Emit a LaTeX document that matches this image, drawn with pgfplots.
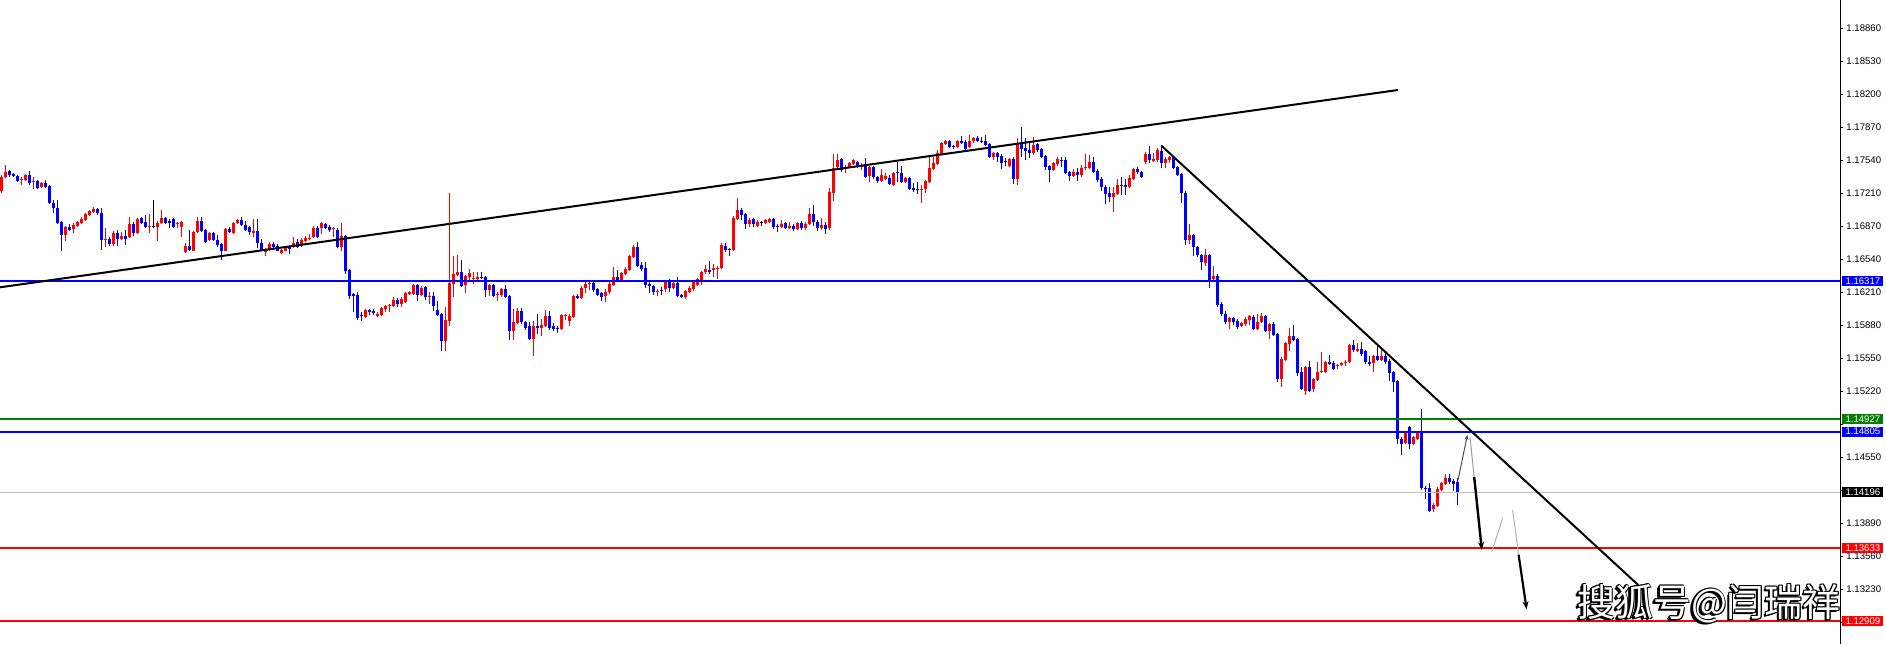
\documentclass[border=0pt]{standalone}
\usepackage{pgfplots}
\usepackage{pgfplotstable}
\pgfplotsset{compat=1.18}
\usepackage{fontspec}
\setmainfont{Liberation Sans}
\newfontfamily\cjk{Noto Sans CJK SC}
\usetikzlibrary{arrows.meta}
\definecolor{mtblue}{RGB}{0,0,255}
\definecolor{mtred}{RGB}{255,0,0}
\definecolor{mtgreen}{RGB}{0,128,0}
\definecolor{mtgray}{RGB}{192,192,192}
\pgfplotstableread{
i o h l c
0 1.1722 1.1738 1.1720 1.1736
1 1.1736 1.1748 1.1735 1.1741
2 1.1742 1.1743 1.1736 1.1738
3 1.1739 1.1740 1.1736 1.1737
4 1.1737 1.1738 1.1731 1.1732
5 1.1733 1.1736 1.1728 1.1734
6 1.1733 1.1739 1.1732 1.1738
7 1.1738 1.1742 1.1728 1.1730
8 1.1731 1.1736 1.1724 1.1732
9 1.1732 1.1733 1.1724 1.1725
10 1.1726 1.1731 1.1725 1.1730
11 1.1730 1.1733 1.1725 1.1726
12 1.1727 1.1728 1.1709 1.1710
13 1.1710 1.1713 1.1700 1.1705
14 1.1705 1.1713 1.1689 1.1690
15 1.1691 1.1692 1.1661 1.1678
16 1.1678 1.1687 1.1672 1.1686
17 1.1686 1.1689 1.1682 1.1683
18 1.1684 1.1690 1.1680 1.1688
19 1.1687 1.1692 1.1686 1.1691
20 1.1690 1.1696 1.1689 1.1694
21 1.1693 1.1700 1.1692 1.1699
22 1.1698 1.1703 1.1697 1.1702
23 1.1701 1.1706 1.1700 1.1704
24 1.1704 1.1705 1.1698 1.1700
25 1.1700 1.1705 1.1663 1.1673
26 1.1673 1.1685 1.1666 1.1674
27 1.1674 1.1676 1.1667 1.1669
28 1.1669 1.1682 1.1667 1.1680
29 1.1680 1.1683 1.1667 1.1674
30 1.1674 1.1681 1.1673 1.1677
31 1.1677 1.1683 1.1668 1.1674
32 1.1676 1.1696 1.1675 1.1689
33 1.1689 1.1691 1.1677 1.1680
34 1.1680 1.1695 1.1679 1.1694
35 1.1695 1.1696 1.1689 1.1690
36 1.1691 1.1698 1.1685 1.1686
37 1.1686 1.1699 1.1680 1.1687
38 1.1686 1.1713 1.1685 1.1686
39 1.1686 1.1692 1.1672 1.1690
40 1.1690 1.1703 1.1689 1.1695
41 1.1695 1.1696 1.1689 1.1690
42 1.1692 1.1694 1.1685 1.1690
43 1.1694 1.1695 1.1685 1.1686
44 1.1689 1.1691 1.1685 1.1690
45 1.1686 1.1692 1.1676 1.1691
46 1.1660 1.1670 1.1659 1.1667
47 1.1667 1.1683 1.1661 1.1663
48 1.1662 1.1682 1.1661 1.1681
49 1.1681 1.1696 1.1680 1.1692
50 1.1692 1.1696 1.1681 1.1682
51 1.1683 1.1684 1.1670 1.1671
52 1.1673 1.1681 1.1672 1.1680
53 1.1680 1.1681 1.1672 1.1673
54 1.1673 1.1678 1.1666 1.1668
55 1.1669 1.1670 1.1652 1.1662
56 1.1662 1.1685 1.1661 1.1684
57 1.1684 1.1686 1.1680 1.1681
58 1.1680 1.1691 1.1679 1.1690
59 1.1690 1.1694 1.1689 1.1693
60 1.1693 1.1696 1.1687 1.1688
61 1.1688 1.1692 1.1682 1.1683
62 1.1686 1.1687 1.1678 1.1681
63 1.1680 1.1694 1.1676 1.1682
64 1.1682 1.1694 1.1665 1.1670
65 1.1670 1.1674 1.1661 1.1662
66 1.1660 1.1665 1.1656 1.1662
67 1.1663 1.1671 1.1661 1.1669
68 1.1669 1.1671 1.1665 1.1666
69 1.1667 1.1669 1.1661 1.1662
70 1.1659 1.1664 1.1658 1.1663
71 1.1662 1.1666 1.1661 1.1665
72 1.1666 1.1668 1.1658 1.1664
73 1.1666 1.1676 1.1665 1.1670
74 1.1671 1.1674 1.1665 1.1666
75 1.1669 1.1675 1.1666 1.1673
76 1.1672 1.1677 1.1671 1.1675
77 1.1674 1.1679 1.1673 1.1675
78 1.1676 1.1687 1.1675 1.1685
79 1.1685 1.1687 1.1675 1.1676
80 1.1685 1.1691 1.1679 1.1690
81 1.1689 1.1690 1.1684 1.1685
82 1.1686 1.1688 1.1681 1.1683
83 1.1684 1.1686 1.1676 1.1685
84 1.1683 1.1685 1.1665 1.1666
85 1.1666 1.1690 1.1661 1.1677
86 1.1677 1.1678 1.1638 1.1641
87 1.1642 1.1643 1.1613 1.1616
88 1.1618 1.1619 1.1600 1.1616
89 1.1617 1.1620 1.1592 1.1594
90 1.1597 1.1600 1.1591 1.1596
91 1.1595 1.1603 1.1594 1.1602
92 1.1602 1.1603 1.1597 1.1600
93 1.1601 1.1603 1.1597 1.1599
94 1.1596 1.1600 1.1595 1.1598
95 1.1597 1.1605 1.1596 1.1604
96 1.1603 1.1607 1.1600 1.1606
97 1.1606 1.1608 1.1600 1.1607
98 1.1606 1.1615 1.1605 1.1612
99 1.1612 1.1614 1.1605 1.1608
100 1.1608 1.1615 1.1605 1.1613
101 1.1610 1.1620 1.1609 1.1619
102 1.1618 1.1621 1.1617 1.1620
103 1.1618 1.1628 1.1617 1.1627
104 1.1627 1.1628 1.1611 1.1617
105 1.1617 1.1626 1.1616 1.1624
106 1.1625 1.1626 1.1612 1.1615
107 1.1615 1.1620 1.1608 1.1616
108 1.1616 1.1620 1.1601 1.1606
109 1.1602 1.1611 1.1596 1.1597
110 1.1598 1.1599 1.1561 1.1571
111 1.1571 1.1605 1.1561 1.1592
112 1.1591 1.1720 1.1586 1.1629
113 1.1628 1.1656 1.1615 1.1638
114 1.1637 1.1657 1.1636 1.1640
115 1.1640 1.1652 1.1625 1.1626
116 1.1627 1.1637 1.1619 1.1636
117 1.1635 1.1643 1.1631 1.1639
118 1.1633 1.1640 1.1628 1.1634
119 1.1633 1.1640 1.1632 1.1635
120 1.1635 1.1640 1.1633 1.1634
121 1.1635 1.1636 1.1615 1.1622
122 1.1622 1.1628 1.1616 1.1627
123 1.1627 1.1628 1.1615 1.1616
124 1.1617 1.1620 1.1611 1.1618
125 1.1617 1.1624 1.1615 1.1623
126 1.1623 1.1627 1.1614 1.1615
127 1.1616 1.1617 1.1572 1.1581
128 1.1581 1.1603 1.1572 1.1590
129 1.1589 1.1604 1.1588 1.1601
130 1.1601 1.1604 1.1588 1.1590
131 1.1590 1.1591 1.1582 1.1584
132 1.1586 1.1590 1.1572 1.1573
133 1.1573 1.1591 1.1556 1.1586
134 1.1586 1.1598 1.1578 1.1584
135 1.1584 1.1593 1.1576 1.1587
136 1.1586 1.1602 1.1585 1.1596
137 1.1596 1.1601 1.1582 1.1584
138 1.1586 1.1589 1.1581 1.1583
139 1.1584 1.1586 1.1579 1.1583
140 1.1583 1.1598 1.1582 1.1597
141 1.1596 1.1598 1.1592 1.1597
142 1.1591 1.1598 1.1586 1.1596
143 1.1595 1.1617 1.1594 1.1616
144 1.1616 1.1618 1.1613 1.1614
145 1.1614 1.1626 1.1613 1.1624
146 1.1624 1.1631 1.1619 1.1628
147 1.1628 1.1631 1.1622 1.1629
148 1.1629 1.1631 1.1620 1.1622
149 1.1623 1.1624 1.1616 1.1617
150 1.1619 1.1620 1.1611 1.1615
151 1.1616 1.1623 1.1610 1.1620
152 1.1620 1.1630 1.1618 1.1628
153 1.1627 1.1645 1.1626 1.1635
154 1.1635 1.1642 1.1630 1.1632
155 1.1632 1.1640 1.1630 1.1639
156 1.1638 1.1645 1.1637 1.1643
157 1.1642 1.1657 1.1641 1.1656
158 1.1655 1.1668 1.1654 1.1666
159 1.1666 1.1671 1.1645 1.1646
160 1.1647 1.1650 1.1641 1.1643
161 1.1644 1.1650 1.1624 1.1627
162 1.1628 1.1630 1.1619 1.1626
163 1.1626 1.1627 1.1617 1.1620
164 1.1620 1.1623 1.1616 1.1621
165 1.1622 1.1625 1.1617 1.1621
166 1.1623 1.1632 1.1620 1.1631
167 1.1631 1.1633 1.1620 1.1624
168 1.1624 1.1630 1.1623 1.1629
169 1.1629 1.1635 1.1615 1.1616
170 1.1617 1.1618 1.1614 1.1615
171 1.1615 1.1622 1.1613 1.1621
172 1.1620 1.1626 1.1619 1.1624
173 1.1623 1.1631 1.1621 1.1630
174 1.1627 1.1634 1.1626 1.1633
175 1.1632 1.1641 1.1627 1.1640
176 1.1640 1.1647 1.1638 1.1643
177 1.1642 1.1651 1.1638 1.1640
178 1.1642 1.1648 1.1635 1.1644
179 1.1643 1.1646 1.1633 1.1644
180 1.1644 1.1670 1.1643 1.1668
181 1.1667 1.1670 1.1660 1.1663
182 1.1664 1.1665 1.1656 1.1663
183 1.1663 1.1697 1.1662 1.1695
184 1.1694 1.1715 1.1693 1.1703
185 1.1703 1.1705 1.1693 1.1698
186 1.1699 1.1700 1.1684 1.1689
187 1.1689 1.1695 1.1686 1.1693
188 1.1694 1.1695 1.1686 1.1689
189 1.1687 1.1693 1.1686 1.1691
190 1.1690 1.1692 1.1687 1.1690
191 1.1690 1.1694 1.1689 1.1693
192 1.1691 1.1695 1.1690 1.1694
193 1.1694 1.1695 1.1684 1.1686
194 1.1687 1.1689 1.1681 1.1686
195 1.1686 1.1693 1.1685 1.1689
196 1.1690 1.1691 1.1684 1.1685
197 1.1685 1.1691 1.1684 1.1687
198 1.1687 1.1689 1.1682 1.1684
199 1.1684 1.1691 1.1683 1.1690
200 1.1690 1.1692 1.1683 1.1685
201 1.1685 1.1691 1.1683 1.1689
202 1.1689 1.1705 1.1688 1.1699
203 1.1699 1.1708 1.1687 1.1691
204 1.1691 1.1693 1.1682 1.1685
205 1.1685 1.1695 1.1683 1.1688
206 1.1688 1.1691 1.1679 1.1684
207 1.1685 1.1725 1.1683 1.1721
208 1.1720 1.1759 1.1712 1.1745
209 1.1746 1.1759 1.1745 1.1753
210 1.1754 1.1755 1.1741 1.1743
211 1.1744 1.1748 1.1740 1.1746
212 1.1746 1.1751 1.1745 1.1750
213 1.1749 1.1754 1.1748 1.1753
214 1.1751 1.1752 1.1745 1.1747
215 1.1746 1.1750 1.1743 1.1748
216 1.1749 1.1755 1.1735 1.1736
217 1.1737 1.1747 1.1731 1.1746
218 1.1746 1.1747 1.1734 1.1736
219 1.1736 1.1737 1.1730 1.1732
220 1.1732 1.1744 1.1731 1.1738
221 1.1734 1.1740 1.1733 1.1737
222 1.1735 1.1738 1.1728 1.1729
223 1.1728 1.1741 1.1727 1.1740
224 1.1741 1.1751 1.1731 1.1740
225 1.1740 1.1747 1.1730 1.1731
226 1.1731 1.1736 1.1730 1.1735
227 1.1735 1.1736 1.1723 1.1724
228 1.1725 1.1730 1.1721 1.1723
229 1.1724 1.1731 1.1719 1.1723
230 1.1723 1.1728 1.1710 1.1724
231 1.1724 1.1733 1.1720 1.1732
232 1.1731 1.1756 1.1730 1.1745
233 1.1744 1.1756 1.1743 1.1750
234 1.1749 1.1763 1.1748 1.1760
235 1.1759 1.1771 1.1758 1.1770
236 1.1769 1.1773 1.1768 1.1772
237 1.1772 1.1773 1.1765 1.1766
238 1.1767 1.1768 1.1764 1.1766
239 1.1766 1.1773 1.1765 1.1772
240 1.1772 1.1777 1.1769 1.1770
241 1.1771 1.1773 1.1762 1.1764
242 1.1766 1.1778 1.1765 1.1772
243 1.1772 1.1776 1.1770 1.1775
244 1.1775 1.1777 1.1771 1.1772
245 1.1772 1.1776 1.1770 1.1771
246 1.1772 1.1778 1.1767 1.1768
247 1.1769 1.1770 1.1755 1.1756
248 1.1756 1.1761 1.1753 1.1760
249 1.1760 1.1761 1.1751 1.1756
250 1.1757 1.1759 1.1744 1.1750
251 1.1752 1.1755 1.1747 1.1751
252 1.1747 1.1755 1.1746 1.1754
253 1.1754 1.1756 1.1729 1.1734
254 1.1734 1.1775 1.1728 1.1770
255 1.1770 1.1786 1.1756 1.1764
256 1.1765 1.1775 1.1753 1.1762
257 1.1763 1.1770 1.1755 1.1760
258 1.1760 1.1776 1.1758 1.1768
259 1.1769 1.1770 1.1761 1.1763
260 1.1764 1.1765 1.1755 1.1756
261 1.1757 1.1758 1.1743 1.1746
262 1.1747 1.1748 1.1731 1.1743
263 1.1743 1.1751 1.1742 1.1750
264 1.1749 1.1756 1.1747 1.1754
265 1.1753 1.1756 1.1746 1.1752
266 1.1753 1.1756 1.1739 1.1740
267 1.1741 1.1742 1.1732 1.1737
268 1.1737 1.1744 1.1736 1.1741
269 1.1741 1.1745 1.1732 1.1738
270 1.1738 1.1748 1.1736 1.1745
271 1.1745 1.1759 1.1743 1.1746
272 1.1745 1.1758 1.1744 1.1751
273 1.1751 1.1756 1.1740 1.1741
274 1.1742 1.1744 1.1731 1.1733
275 1.1734 1.1736 1.1722 1.1726
276 1.1726 1.1728 1.1709 1.1719
277 1.1720 1.1726 1.1711 1.1716
278 1.1716 1.1726 1.1701 1.1720
279 1.1719 1.1734 1.1718 1.1728
280 1.1728 1.1736 1.1718 1.1727
281 1.1728 1.1734 1.1718 1.1726
282 1.1726 1.1738 1.1725 1.1735
283 1.1734 1.1745 1.1733 1.1744
284 1.1744 1.1746 1.1739 1.1741
285 1.1741 1.1742 1.1735 1.1736
286 1.1751 1.1761 1.1749 1.1759
287 1.1759 1.1767 1.1750 1.1753
288 1.1752 1.1760 1.1751 1.1754
289 1.1753 1.1765 1.1751 1.1763
290 1.1762 1.1768 1.1745 1.1750
291 1.1750 1.1756 1.1745 1.1754
292 1.1753 1.1757 1.1750 1.1756
293 1.1756 1.1757 1.1744 1.1745
294 1.1746 1.1747 1.1737 1.1738
295 1.1739 1.1740 1.1710 1.1720
296 1.1720 1.1722 1.1668 1.1673
297 1.1673 1.1689 1.1669 1.1678
298 1.1678 1.1679 1.1656 1.1666
299 1.1666 1.1667 1.1655 1.1657
300 1.1657 1.1658 1.1642 1.1650
301 1.1649 1.1664 1.1646 1.1657
302 1.1657 1.1658 1.1624 1.1631
303 1.1633 1.1646 1.1630 1.1636
304 1.1636 1.1638 1.1605 1.1607
305 1.1608 1.1610 1.1596 1.1598
306 1.1598 1.1601 1.1588 1.1590
307 1.1590 1.1595 1.1583 1.1594
308 1.1594 1.1595 1.1587 1.1590
309 1.1591 1.1593 1.1583 1.1585
310 1.1586 1.1590 1.1585 1.1589
311 1.1588 1.1595 1.1586 1.1593
312 1.1592 1.1597 1.1587 1.1596
313 1.1595 1.1597 1.1582 1.1583
314 1.1583 1.1598 1.1582 1.1590
315 1.1590 1.1599 1.1589 1.1596
316 1.1596 1.1597 1.1580 1.1581
317 1.1581 1.1589 1.1573 1.1588
318 1.1588 1.1590 1.1576 1.1577
319 1.1578 1.1579 1.1530 1.1533
320 1.1533 1.1555 1.1525 1.1553
321 1.1552 1.1570 1.1551 1.1569
322 1.1568 1.1584 1.1561 1.1576
323 1.1576 1.1587 1.1571 1.1572
324 1.1573 1.1574 1.1536 1.1539
325 1.1540 1.1545 1.1522 1.1523
326 1.1521 1.1546 1.1517 1.1545
327 1.1545 1.1551 1.1520 1.1521
328 1.1523 1.1534 1.1520 1.1533
329 1.1532 1.1550 1.1531 1.1540
330 1.1540 1.1560 1.1539 1.1541
331 1.1540 1.1551 1.1539 1.1550
332 1.1550 1.1557 1.1547 1.1548
333 1.1549 1.1551 1.1542 1.1543
334 1.1546 1.1548 1.1543 1.1547
335 1.1547 1.1550 1.1546 1.1549
336 1.1549 1.1552 1.1546 1.1550
337 1.1550 1.1568 1.1549 1.1567
338 1.1567 1.1572 1.1560 1.1562
339 1.1561 1.1569 1.1560 1.1563
340 1.1563 1.1570 1.1556 1.1558
341 1.1561 1.1562 1.1548 1.1550
342 1.1550 1.1556 1.1546 1.1548
343 1.1549 1.1557 1.1540 1.1556
344 1.1556 1.1568 1.1551 1.1552
345 1.1552 1.1562 1.1551 1.1556
346 1.1556 1.1561 1.1548 1.1550
347 1.1551 1.1553 1.1531 1.1539
348 1.1540 1.1541 1.1520 1.1530
349 1.1531 1.1532 1.1468 1.1473
350 1.1473 1.1475 1.1457 1.1468
351 1.1469 1.1481 1.1468 1.1480
352 1.1485 1.1486 1.1463 1.1468
353 1.1468 1.1476 1.1467 1.1475
354 1.1473 1.1481 1.1472 1.1480
355 1.1480 1.1503 1.1422 1.1424
356 1.1424 1.1426 1.1413 1.1423
357 1.1424 1.1429 1.1400 1.1401
358 1.1403 1.1409 1.1400 1.1407
359 1.1406 1.1425 1.1405 1.1423
360 1.1422 1.1430 1.1421 1.1429
361 1.1428 1.1438 1.1427 1.1434
362 1.1434 1.1438 1.1428 1.1430
363 1.1431 1.1433 1.1421 1.1428
364 1.1430 1.1434 1.1407 1.1420
}\candles
\begin{document}
\begin{tikzpicture}
\begin{axis}[
  at={(0,0)}, anchor=south west,
  scale only axis, width=920pt, height=322pt,
  xmin=-0.25, xmax=459.75,
  ymin=1.126755, ymax=1.19131,
  axis x line=none,
  axis y line*=right,
  axis line style={line width=0.5pt, black},
  ytick pos=right,
  tick align=outside,
  major tick length=1.5pt,
  tick style={line width=0.5pt, black},
  ytick={1.18847,1.18516,1.18186,1.17855,1.17524,1.17193,1.16862,1.16532,1.16201,1.15870,1.15539,1.15209,1.14878,1.14547,1.14216,1.13886,1.13555,1.13224,1.12894},
  yticklabels={1.18860,1.18530,1.18200,1.17870,1.17540,1.17210,1.16870,1.16540,1.16210,1.15880,1.15550,1.15220,,1.14550,,1.13890,1.13560,1.13230,},
  yticklabel style={anchor=west, inner sep=0pt, font=\fontsize{4.8}{5}\selectfont, xshift=1.5pt},
  clip=false,
]
% wicks
\addplot[draw=none, mark=none, restrict expr to domain={\thisrow{c}-\thisrow{o}}{0.00001:1},
  error bars/.cd, y dir=plus, y explicit, error mark=none,
  error bar style={draw=mtred, line width=0.5pt}]
  table[x=i, y=l, y error plus expr={\thisrow{h}-\thisrow{l}}] {\candles};
\addplot[draw=none, mark=none, restrict expr to domain={\thisrow{c}-\thisrow{o}}{-1:-0.00001},
  error bars/.cd, y dir=plus, y explicit, error mark=none,
  error bar style={draw=mtblue, line width=0.5pt}]
  table[x=i, y=l, y error plus expr={\thisrow{h}-\thisrow{l}}] {\candles};
\addplot[draw=none, mark=none, restrict expr to domain={\thisrow{c}-\thisrow{o}}{-0.00001:0.00001},
  error bars/.cd, y dir=plus, y explicit, error mark=none,
  error bar style={draw=black, line width=0.5pt}]
  table[x=i, y=l, y error plus expr={\thisrow{h}-\thisrow{l}}] {\candles};
% bodies
\addplot[draw=none, mark=none, restrict expr to domain={\thisrow{c}-\thisrow{o}}{0.00001:1},
  error bars/.cd, y dir=plus, y explicit, error mark=none,
  error bar style={draw=mtred, line width=1.5pt}]
  table[x=i, y=o, y error plus expr={\thisrow{c}-\thisrow{o}}] {\candles};
\addplot[draw=none, mark=none, restrict expr to domain={\thisrow{c}-\thisrow{o}}{-1:-0.00001},
  error bars/.cd, y dir=plus, y explicit, error mark=none,
  error bar style={draw=mtblue, line width=1.5pt}]
  table[x=i, y=c, y error plus expr={\thisrow{o}-\thisrow{c}}] {\candles};
\addplot[only marks, mark=-, mark size=0.75pt, mark options={line width=0.5pt, draw=black},
  restrict expr to domain={\thisrow{c}-\thisrow{o}}{-0.00001:0.00001}]
  table[x=i, y=o] {\candles};
% horizontal levels
\addplot[mtgray, line width=0.5pt] coordinates {(-0.25,1.14196) (459.75,1.14196)};
\addplot[mtblue, line width=1pt] coordinates {(-0.25,1.16317) (459.75,1.16317)};
\addplot[mtblue, line width=1pt] coordinates {(-0.25,1.14805) (459.75,1.14805)};
\addplot[mtgreen, line width=1pt] coordinates {(-0.25,1.14927) (459.75,1.14927)};
\addplot[mtred, line width=1pt] coordinates {(-0.25,1.13633) (459.75,1.13633)};
\addplot[mtred, line width=1pt] coordinates {(-0.25,1.12909) (459.75,1.12909)};
% trend lines
\addplot[black, line width=1pt] coordinates {(-0.25,1.16251) (349.25,1.18229)};
\addplot[black, line width=1pt] coordinates {(290.1,1.17671) (409.3,1.13267)};
% projection path
\addplot[black!70, line width=0.5pt, -{Stealth[length=2.5pt,width=2pt]}] coordinates {(364.25,1.14320) (366.6,1.14771)};
\addplot[black!40, line width=0.5pt] coordinates {(367.25,1.14747) (368.3,1.1435)};
\addplot[black, line width=1.2pt, -{Stealth[length=4pt,width=3pt]}] coordinates {(368.3,1.1435) (370.2,1.13618)};
\addplot[black!30, line width=0.5pt] coordinates {(372.7,1.13601) (375.4,1.13936)};
\addplot[black!30, line width=0.5pt] coordinates {(377.9,1.14019) (379.4,1.1357)};
\addplot[black, line width=1.1pt, -{Stealth[length=4pt,width=3pt]}] coordinates {(379.4,1.1357) (381.4,1.13023)};
% price boxes
\foreach \p/\col in {1.16317/mtblue, 1.14927/mtgreen, 1.14805/mtblue, 1.14196/black, 1.13633/mtred, 1.12909/mtred}{
  \edef\tmp{\noexpand\node[anchor=west, fill=\col, text=white, inner sep=0pt, minimum width=20.5pt, minimum height=5pt, font=\noexpand\fontsize{4.8}{5}\noexpand\selectfont] at (axis cs:459.75,\p) [xshift=1pt] {\p};}
  \tmp
}
\end{axis}
% watermark
\begin{scope}[font=\cjk\fontsize{19}{19}\selectfont]
\foreach \dx/\dy in {-1.2/-0.9,-0.9/-0.6,-0.6/-0.3,-0.5/0.4,0.5/-0.4,0.4/0.4,-0.4/-0.5,0.3/0}{
  \node[text=black, inner sep=0pt] at (854.5pt+\dx pt,20.25pt+\dy pt) {搜狐号@闫瑞祥};
}
\node[text=white, inner sep=0pt] at (854.5pt,20.25pt) {搜狐号@闫瑞祥};
\end{scope}
\pgfresetboundingbox
\useasboundingbox (0,0) rectangle (943pt,322pt);
\end{tikzpicture}
\end{document}
